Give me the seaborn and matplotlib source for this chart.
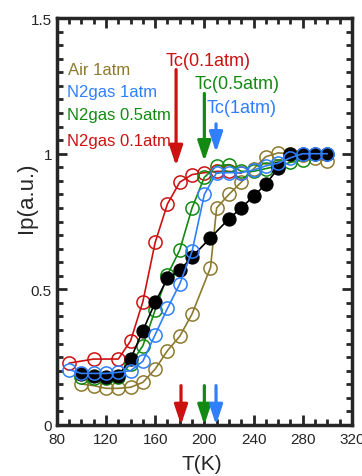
import seaborn as sns
import matplotlib.pyplot as plt
import numpy as np
import pandas as pd

# data
t_air = [100, 110, 120, 130, 140, 150, 160, 170, 180, 190, 205, 210, 220, 230, 240, 250, 260, 270, 280, 290, 300]
ip_air = [0.151, 0.145, 0.135, 0.135, 0.139, 0.157, 0.206, 0.274, 0.327, 0.409, 0.58, 0.80, 0.85, 0.895, 0.944, 0.989, 1.003, 1.0, 0.997, 0.985, 0.972]

t_n2_1 = [90, 100, 110, 120, 130, 140, 150, 160, 170, 180, 190, 200, 210, 220, 230, 240, 250, 260, 270, 280, 290, 300]
ip_n2_1 = [0.204, 0.19, 0.19, 0.19, 0.194, 0.2, 0.235, 0.333, 0.43, 0.52, 0.64, 0.85, 0.93, 0.93, 0.93, 0.94, 0.955, 0.965, 0.985, 1.0, 1.0, 1.0]

t_n2_05 = [100, 110, 120, 130, 140, 150, 160, 170, 180, 190, 200, 210, 220, 230, 240, 250, 260, 270, 280]
ip_n2_05 = [0.178, 0.172, 0.172, 0.176, 0.225, 0.292, 0.424, 0.553, 0.645, 0.80, 0.913, 0.955, 0.96, 0.935, 0.935, 0.945, 0.955, 0.968, 0.977]

t_n2_01 = [90, 110, 130, 140, 150, 160, 170, 180, 190, 200, 210, 220, 230]
ip_n2_01 = [0.228, 0.243, 0.243, 0.31, 0.455, 0.673, 0.815, 0.895, 0.923, 0.93, 0.935, 0.935, 0.928]

t_black = [100, 110, 120, 130, 140, 150, 160, 170, 180, 190, 205, 220, 230, 240, 250, 260, 270, 280, 290, 300]
ip_black = [0.188, 0.18, 0.176, 0.182, 0.243, 0.348, 0.452, 0.54, 0.57, 0.62, 0.69, 0.76, 0.80, 0.843, 0.888, 0.946, 1.0, 1.0, 1.0, 0.998]

tc_labels = ['Tc(0.1atm)', 'Tc(0.5atm)', 'Tc(1atm)']
tc_values = [177, 200, 209.5]
tc_bottom = [181, 200, 209.5]

c_air = '#8c7a2e'
c_blue = '#2f7fff'
c_green = '#128a12'
c_red = '#cc1111'

sns.set_style('ticks')
plt.rcParams['font.family'] = ['Liberation Sans', 'DejaVu Sans']

fig = plt.figure(figsize=(3.62, 4.77), dpi=100)
ax = fig.add_axes([0.157, 0.107, 0.815, 0.853])

ms = 9.5
sns.lineplot(x=t_air, y=ip_air, ax=ax, color=c_air, marker='o', markersize=ms,
             markerfacecolor='none', markeredgecolor=c_air, markeredgewidth=1.1, lw=1.2)
sns.lineplot(x=t_n2_01, y=ip_n2_01, ax=ax, color=c_red, marker='o', markersize=ms,
             markerfacecolor='none', markeredgecolor=c_red, markeredgewidth=1.1, lw=1.2)
sns.lineplot(x=t_n2_05, y=ip_n2_05, ax=ax, color=c_green, marker='o', markersize=ms,
             markerfacecolor='none', markeredgecolor=c_green, markeredgewidth=1.1, lw=1.2)
sns.lineplot(x=t_black, y=ip_black, ax=ax, color='black', marker='o', markersize=ms,
             markerfacecolor='black', markeredgecolor='black', lw=1.2)
sns.lineplot(x=t_n2_1, y=ip_n2_1, ax=ax, color=c_blue, marker='o', markersize=ms,
             markerfacecolor='none', markeredgecolor=c_blue, markeredgewidth=1.1, lw=1.2)

# legend-like labels
ax.text(89, 1.31, 'Air 1atm', color=c_air, fontsize=12, va='center')
ax.text(88, 1.228, 'N2gas 1atm', color=c_blue, fontsize=12, va='center')
ax.text(88, 1.146, 'N2gas 0.5atm', color=c_green, fontsize=12, va='center')
ax.text(88, 1.048, 'N2gas 0.1atm', color=c_red, fontsize=12, va='center')

# Tc arrows
cols = [c_red, c_green, c_blue]
label_pos = [(168.5, 1.343), (192, 1.257), (201.5, 1.172)]
starts = [1.31, 1.222, 1.11]
tips = [0.955, 0.972, 1.005]
for lab, tc, tb, col, lp, s, e in zip(tc_labels, tc_values, tc_bottom, cols, label_pos, starts, tips):
    ax.text(lp[0], lp[1], lab, color=col, fontsize=13, va='center')
    ax.annotate('', xy=(tc, e), xytext=(tc, s),
                arrowprops=dict(arrowstyle='-|>,head_width=0.4,head_length=1.2', lw=2.3, color=col,
                                shrinkA=0, shrinkB=0))
    ax.annotate('', xy=(tb, 0.0), xytext=(tb, 0.145),
                arrowprops=dict(arrowstyle='-|>,head_width=0.4,head_length=1.2', lw=2.3, color=col,
                                shrinkA=0, shrinkB=0))

ax.set_xlim(80, 320)
ax.set_ylim(0, 1.5)
ax.set_xticks(np.arange(80, 321, 40))
ax.set_xticks(np.arange(80, 321, 10), minor=True)
ax.set_yticks([0, 0.5, 1, 1.5])
ax.set_yticklabels(['0', '0.5', '1', '1.5'])
ax.set_yticks(np.arange(0, 1.501, 0.05), minor=True)
ax.tick_params(which='both', direction='in', top=True, right=True, width=2, labelsize=11)
ax.tick_params(axis='x', pad=5)
ax.tick_params(which='major', length=7)
ax.tick_params(which='minor', length=4)
for sp in ax.spines.values():
    sp.set_linewidth(2.5)
ax.set_xlabel('T(K)', fontsize=15)
ax.set_ylabel('Ip(a.u.)', fontsize=16)
ax.xaxis.set_label_coords(0.49, -0.072)
ax.yaxis.set_label_coords(-0.068, 0.56)

fig.savefig('out.png', dpi=100)
